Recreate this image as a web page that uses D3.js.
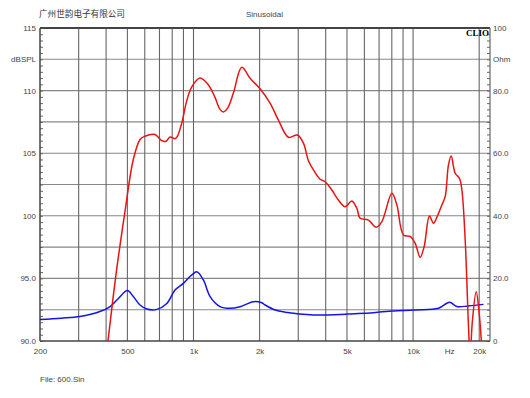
<!DOCTYPE html>
<meta charset="utf-8">
<head>
<style>
  body { margin: 0; background: #fff; }
  svg text { font-family: "Liberation Sans", Arial, sans-serif; font-size: 8px; fill: #444; }
  .title { font-family: "Noto Sans CJK SC", sans-serif; font-size: 8.6px; fill: #333; }
  .clio { font-family: "Liberation Serif", serif; font-weight: bold; font-size: 9px; fill: #000; }
  .vgrid { stroke: #666; stroke-width: 1.1; }
  .hgrid { stroke: #888; stroke-width: 1.1; }
  .axis path { display: none; }
  .axis line { stroke: #666; }
</style>
<script src="https://d3js.org/d3.v7.min.js"></script>
</head>
<body>
<svg width="530" height="398"></svg>
<script>
// SPL response (red, left axis dBSPL)
var splFreq = [380, 408, 430, 453, 490, 532, 571, 600, 668, 717, 750, 782, 824, 842, 884, 932, 982, 1071, 1169, 1250, 1321, 1368, 1430, 1519, 1659, 1810, 1996, 2232, 2436, 2706, 2974, 3167, 3338, 3518, 3772, 3977, 4266, 4571, 4902, 5260, 5543, 5740, 6261, 6790, 7208, 8006, 8438, 9040, 9700, 10220, 10770, 11230, 11870, 12380, 12830, 13520, 14000, 14490, 14910, 15540, 16260, 16680, 17270, 17880, 18200, 18600, 19380, 20000, 20700];
var splDb = [86, 90, 93.4, 96.5, 100.6, 104.5, 106.1, 106.35, 106.5, 106.0, 105.95, 106.3, 106.15, 106.3, 107.4, 109.2, 110.3, 111.0, 110.45, 109.5, 108.5, 108.3, 108.6, 109.8, 111.86, 110.98, 110.2, 109.0, 107.65, 106.27, 106.45, 105.8, 104.4, 103.66, 102.92, 102.72, 102.06, 101.26, 100.73, 101.18, 100.6, 99.8, 99.66, 99.08, 99.53, 101.8, 100.86, 98.47, 98.35, 97.8, 96.69, 97.53, 99.98, 99.4, 99.88, 100.86, 101.53, 104.06, 104.78, 103.4, 103.0, 102.06, 98.07, 91.14, 88.6, 91.5, 93.94, 92.21, 88.5];

// Impedance (blue, right axis Ohm)
var zFreq = [200, 250, 304, 375, 417, 455, 500, 532, 571, 613, 680, 756, 824, 899, 982, 1035, 1109, 1190, 1321, 1467, 1630, 1874, 2047, 2119, 2353, 2614, 3518, 5077, 6048, 8006, 10220, 13050, 14650, 15830, 17880, 20920];
var zOhm = [6.9, 7.3, 7.8, 9.4, 11.0, 13.6, 16.1, 14.2, 11.5, 10.2, 10.1, 12.0, 16.3, 18.4, 21.1, 22.1, 19.5, 14.2, 11.0, 10.45, 10.96, 12.56, 12.2, 11.5, 9.9, 9.2, 8.3, 8.6, 8.85, 9.6, 9.9, 10.45, 12.4, 11.0, 11.2, 11.7];

// axes
var freqGrid = [300, 400, 500, 600, 700, 800, 900, 1000, 2000, 3000, 4000, 5000, 6000, 7000, 8000, 9000, 10000, 20000];
var freqTicks = [200, 500, 1000, 2000, 5000, 10000, 14600, 20000];
var freqLabels = ["200", "500", "1k", "2k", "5k", "10k", "Hz", "20k"];
var dbTicks = [115, 112.5, 110, 105, 100, 95, 90];
var dbLabels = ["115", "dBSPL", "110", "105", "100", "95.0", "90.0"];
var ohmGrid = [10, 20, 30, 40, 50, 60, 70, 80, 90];
var ohmTicks = [100, 90, 80, 60, 40, 20, 0];
var ohmLabels = ["100", "Ohm", "80.0", "60.0", "40.0", "20.0", "0"];

var svg = d3.select("svg");
var pl = 40, pr = 490, pt = 28, pb = 341;

var x = d3.scaleLog().domain([200, 22400]).range([pl, pr]);
var yDb = d3.scaleLinear().domain([90, 115]).range([pb, pt]);
var yOhm = d3.scaleLinear().domain([0, 100]).range([pb, pt]);

// header / footer
svg.append("text").attr("class", "title").attr("x", 39).attr("y", 17).text("广州世韵电子有限公司");
svg.append("text").attr("x", 246).attr("y", 17).text("Sinusoidal");
svg.append("text").attr("x", 40).attr("y", 382).text("File: 600.Sin");

// grid
svg.append("g").selectAll("line").data(ohmGrid).enter().append("line")
  .attr("class", "hgrid")
  .attr("x1", pl).attr("x2", pr)
  .attr("y1", function(d) { return yOhm(d); })
  .attr("y2", function(d) { return yOhm(d); });

svg.append("g").selectAll("line").data(freqGrid).enter().append("line")
  .attr("class", "vgrid")
  .attr("x1", function(d) { return x(d); })
  .attr("x2", function(d) { return x(d); })
  .attr("y1", pt).attr("y2", pb);

// minor ticks (inside the frame)
svg.append("g").attr("class", "axis")
  .attr("transform", "translate(" + pl + ",0)")
  .call(d3.axisRight(yDb).tickValues(d3.range(90, 115.01, 0.5)).tickSize(3).tickFormat(""));
svg.append("g").attr("class", "axis")
  .attr("transform", "translate(" + pr + ",0)")
  .call(d3.axisLeft(yOhm).tickValues(d3.range(0, 100.01, 2)).tickSize(3).tickFormat(""));

// tick labels
svg.append("g").attr("class", "axis")
  .attr("transform", "translate(" + (pl - 1) + ",0)")
  .call(d3.axisLeft(yDb).tickValues(dbTicks).tickSize(0).tickPadding(3)
    .tickFormat(function(d, i) { return dbLabels[i]; }));
svg.append("g").attr("class", "axis")
  .attr("transform", "translate(" + (pr + 1) + ",0)")
  .call(d3.axisRight(yOhm).tickValues(ohmTicks).tickSize(0).tickPadding(2)
    .tickFormat(function(d, i) { return ohmLabels[i]; }));
svg.append("g").attr("class", "axis")
  .attr("transform", "translate(0," + pb + ")")
  .call(d3.axisBottom(x).tickValues(freqTicks).tickSize(0).tickPadding(7)
    .tickFormat(function(d, i) { return freqLabels[i]; }));
svg.selectAll(".axis text").style("font-size", "8px").style("font-family", "'Liberation Sans', Arial, sans-serif").attr("fill", "#444");

// frame
svg.append("line").attr("x1", pl).attr("x2", pr).attr("y1", pt).attr("y2", pt)
  .attr("stroke", "#444").attr("stroke-width", 2);
svg.append("line").attr("x1", pl).attr("x2", pr).attr("y1", pb).attr("y2", pb)
  .attr("stroke", "#444").attr("stroke-width", 1.5);
svg.append("line").attr("x1", pl).attr("x2", pl).attr("y1", pt).attr("y2", pb)
  .attr("stroke", "#444").attr("stroke-width", 1.5);
svg.append("line").attr("x1", pr).attr("x2", pr).attr("y1", pt).attr("y2", pb)
  .attr("stroke", "#666").attr("stroke-width", 1.2);

svg.append("text").attr("class", "clio").attr("x", pr - 1).attr("y", 36)
  .attr("text-anchor", "end").text("CLIO");

// curves
svg.append("clipPath").attr("id", "plot").append("rect")
  .attr("x", pl).attr("y", pt).attr("width", pr - pl).attr("height", pb - pt);

var splLine = d3.line()
  .x(function(d, i) { return x(splFreq[i]); })
  .y(function(d) { return yDb(d); })
  .curve(d3.curveCatmullRom);
var zLine = d3.line()
  .x(function(d, i) { return x(zFreq[i]); })
  .y(function(d) { return yOhm(d); })
  .curve(d3.curveCatmullRom);

svg.append("path").datum(zOhm).attr("clip-path", "url(#plot)")
  .attr("d", zLine).attr("fill", "none").attr("stroke", "#1414e6").attr("stroke-width", 1.5);
svg.append("path").datum(splDb).attr("clip-path", "url(#plot)")
  .attr("d", splLine).attr("fill", "none").attr("stroke", "#e81414").attr("stroke-width", 1.5);
</script>
</body>
